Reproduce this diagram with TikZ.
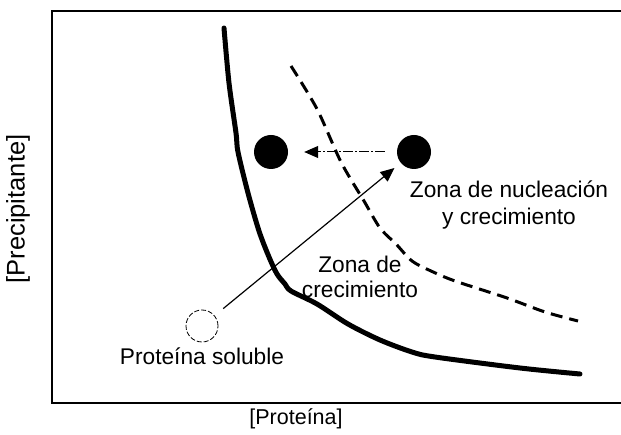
\documentclass[tikz,border=0pt]{standalone}
\usepackage{fontspec}
\setmainfont{Liberation Sans}
\usetikzlibrary{arrows.meta,positioning}

\tikzset{
  fulldot/.style={circle, fill=black, inner sep=0pt, minimum size=34pt},
  emptydot/.style={circle, draw, line width=0.8pt, dash pattern=on 5pt off 2pt, inner sep=0pt, minimum size=32pt},
  lbl/.style={font=\fontsize{22.7}{27}\selectfont, inner sep=0pt, align=center},
  tip/.style={-{Triangle[length=14pt,width=12pt]}},
}

\begin{document}
\begin{tikzpicture}[x=1pt, y=-1pt]
    \useasboundingbox (0,0) rectangle (621,435);

    % Draw axes (open on the right)
    \draw[line width=2pt] (621,11) -- (52,11) -- (52,403) -- (621,403);
    \node[lbl, font=\fontsize{21.5}{25}\selectfont] (xlbl) at (296,419) {[Proteína]};
    \node[lbl, rotate=90, font=\fontsize{25.5}{30}\selectfont] (ylbl) at (18,209) {[Precipitante]};

    % Solubility curve
    \draw[line width=5pt, line cap=round, line join=round]
        plot[smooth, tension=0.5] coordinates {(224,28) (229,83) (236,133) (238,152) (248,193)
        (259,231) (269,257) (277,274) (285,284) (291,291) (317,304) (348,324) (380,340)
        (412,352) (435,357) (520,368) (580,374)};

    % Supersolubility curve
    \draw[line width=3pt, dash pattern=on 12pt off 7pt]
        plot[smooth, tension=0.5] coordinates {(291,66) (317,109) (341,162) (364,201) (380,228)
        (396,244) (412,261) (431,271) (455,281) (507,298) (545,312) (578,321)};

    % Crystals and soluble protein
    \node[fulldot] (grow) at (271,152) {};
    \node[fulldot] (nucl) at (414,152) {};
    \node[emptydot] (sol) at (202,326) {};

    % Arrows
    \draw[line width=1.2pt, tip, shorten <=11pt, shorten >=8pt] (sol) -- (nucl);
    \draw[line width=1pt, tip, dash pattern=on 10pt off 2pt on 2pt off 2pt,
        shorten <=12pt, shorten >=16pt] (nucl) -- (grow);

    % Labels for regions
    \node[lbl] (nuclzone) at (509,205) {Zona de nucleación\\y crecimiento};
    \node[lbl, font=\fontsize{22.7}{25}\selectfont] (growzone) at (360,277) {Zona de\\crecimiento};
    \node[lbl, anchor=base] (sollbl) at (202,365) {Proteína soluble};

\end{tikzpicture}
\end{document}
